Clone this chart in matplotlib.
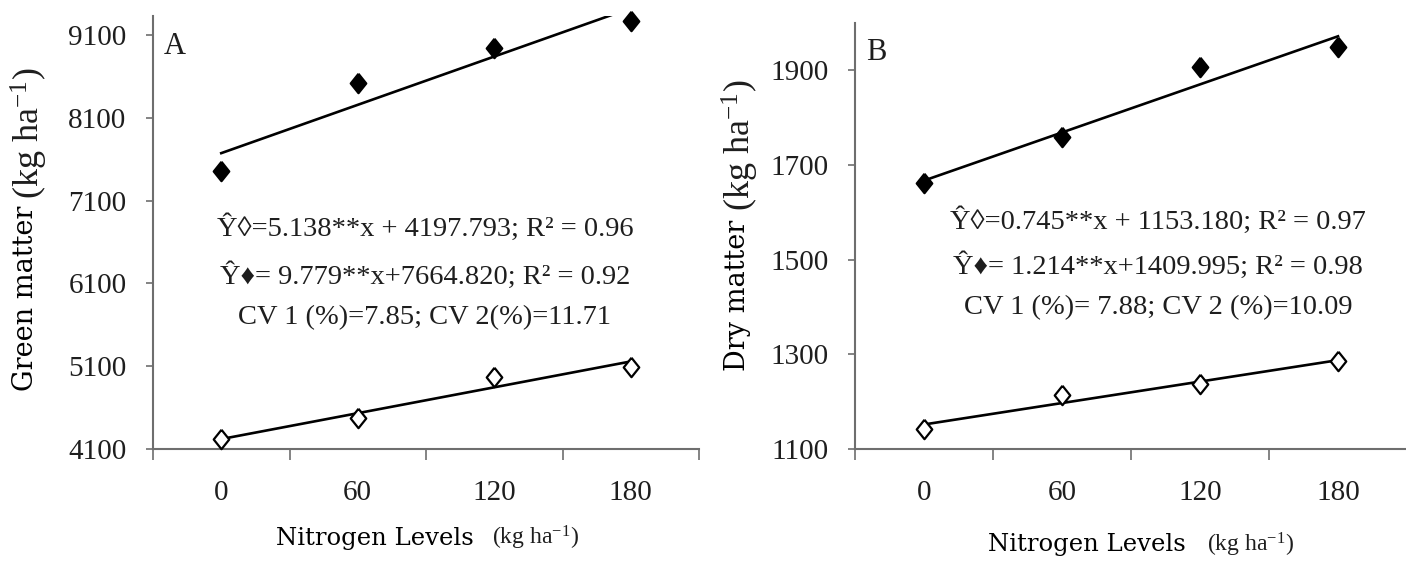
import numpy as np
import matplotlib.pyplot as plt

plt.rcParams['font.family'] = ['Liberation Serif', 'DejaVu Serif']
plt.rcParams['mathtext.fontset'] = 'custom'
plt.rcParams['mathtext.rm'] = 'Liberation Serif'
plt.rcParams['mathtext.it'] = 'Liberation Serif:italic'

nitrogen = [0, 60, 120, 180]
green_open = [4215, 4475, 4975, 5090]
green_filled = [7460, 8525, 8945, 9265]
dry_open = [1142, 1214, 1238, 1285]
dry_filled = [1661, 1759, 1908, 1950]

green_ticks = [4100, 5100, 6100, 7100, 8100, 9100]
dry_ticks = [1100, 1300, 1500, 1700, 1900]

eq_a = ['Ŷ◊=5.138**x + 4197.793; R² = 0.96',
        'Ŷ♦= 9.779**x+7664.820; R² = 0.92',
        'CV 1 (%)=7.85; CV 2(%)=11.71']
eq_b = ['Ŷ◊=0.745**x + 1153.180; R² = 0.97',
        'Ŷ♦= 1.214**x+1409.995; R² = 0.98',
        'CV 1 (%)= 7.88; CV 2 (%)=10.09']

W, H = 1406, 565
fig = plt.figure(figsize=(W / 100, H / 100), dpi=100)


def px(x, y):
    return x / W, 1 - y / H


diamond = [(0, 1), (0.8, 0), (0, -1), (-0.8, 0), (0, 1)]
txt_col = '#1e1e1e'
spine_col = '#6e6e6e'
unit = r'(kg ha$^{\mathrm{-1}}$)'


def panel(rect, yopen, yfilled, yticks, ylim, letter):
    ax = fig.add_axes(rect)
    x = np.array(nitrogen)
    for ys, face in [(yopen, 'white'), (yfilled, 'black')]:
        k, b = np.polyfit(x, ys, 1)
        ax.plot(x, k * x + b, color='black', lw=1.9, zorder=2)
        ax.plot(x, ys, ls='none', marker=diamond, ms=14, mfc=face,
                mec='black', mew=1.6, zorder=3, clip_on=False)
    ax.set_xlim(-30, 210)
    ax.set_ylim(*ylim)
    for s in ['top', 'right']:
        ax.spines[s].set_visible(False)
    for s in ['left', 'bottom']:
        ax.spines[s].set_color(spine_col)
        ax.spines[s].set_linewidth(1.5)
    ax.set_xticks([-30, 30, 90, 150, 210])
    ax.set_xticklabels([])
    ax.set_xticks(nitrogen, minor=True)
    ax.set_xticklabels([str(v) for v in nitrogen], minor=True)
    ax.tick_params(axis='x', which='major', length=8, width=1.2,
                   color=spine_col)
    ax.tick_params(axis='x', which='minor', length=0, pad=22,
                   labelsize=21, labelcolor=txt_col)
    ax.set_yticks(yticks)
    ax.tick_params(axis='y', length=5, width=1.2, color=spine_col,
                   pad=14, labelsize=21, labelcolor=txt_col)
    ax.text(0.02, 0.93, letter, transform=ax.transAxes, fontsize=22,
            color=txt_col, va='center', ha='left')
    return ax


panel([153 / W, 116 / H, 546 / W, 433 / H], green_open, green_filled,
      green_ticks, (4100, 9330), 'A')
panel([855 / W, 116 / H, 552 / W, 426 / H], dry_open, dry_filled,
      dry_ticks, (1100, 2000), 'B')

for lines, cx, ys in [(eq_a, 425, [228, 276, 318]),
                      (eq_b, 1158, [221, 266, 308])]:
    for s, y in zip(lines, ys):
        fig.text(*px(cx, y), s, fontsize=20.5, color=txt_col,
                 ha='center', va='center')

# axis labels: main part in slab serif, unit part in Times-like font
slab = 'DejaVu Serif'
fig.text(*px(26, 298), 'Green matter', family=slab, fontsize=19.5,
         rotation=90, ha='center', va='center', color='black')
fig.text(*px(29, 133), unit, fontsize=26, rotation=90,
         ha='center', va='center', color=txt_col)
fig.text(*px(737, 295), 'Dry matter', family=slab, fontsize=19.5,
         rotation=90, ha='center', va='center', color='black')
fig.text(*px(740, 145), unit, fontsize=26, rotation=90,
         ha='center', va='center', color=txt_col)

fig.text(*px(375, 538), 'Nitrogen Levels', family=slab, fontsize=17.5,
         ha='center', va='center', color='black')
fig.text(*px(535, 538), unit, fontsize=17,
         ha='center', va='center', color=txt_col)
fig.text(*px(1087, 545), 'Nitrogen Levels', family=slab, fontsize=17.5,
         ha='center', va='center', color='black')
fig.text(*px(1250, 545), unit, fontsize=17,
         ha='center', va='center', color=txt_col)

fig.savefig('out.png', dpi=100)
